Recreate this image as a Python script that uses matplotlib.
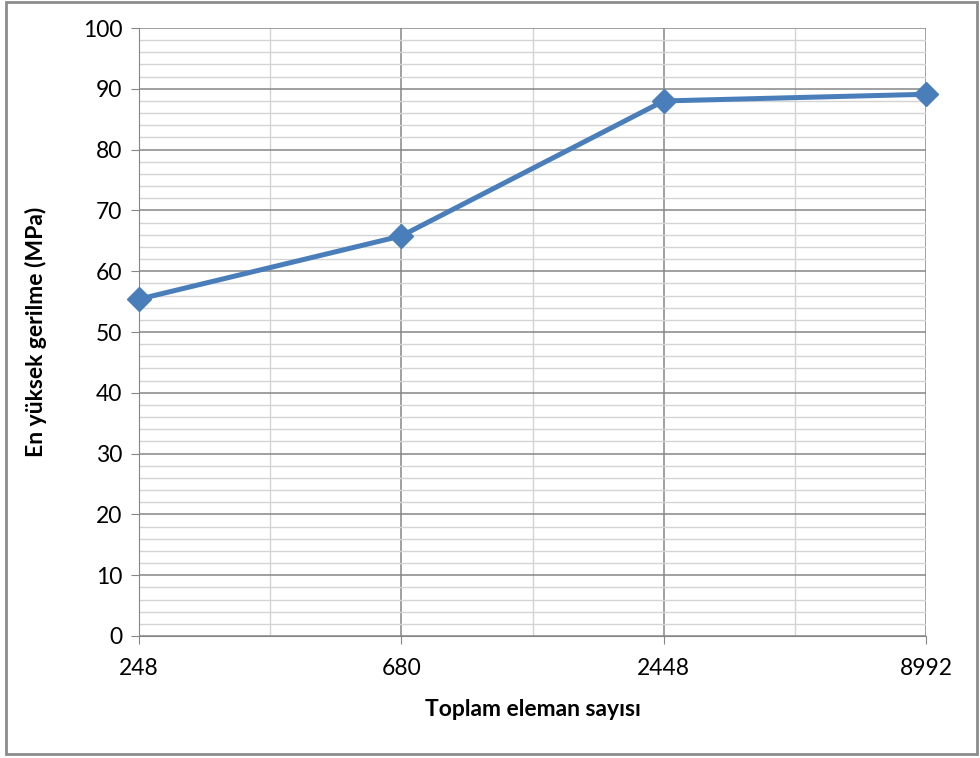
import matplotlib
matplotlib.use('Agg')
import matplotlib.pyplot as plt
import numpy as np
from matplotlib.patches import Rectangle

plt.rcParams['font.family'] = ['Lato', 'DejaVu Sans']

eleman = ['248', '680', '2448', '8992']
gerilme = [55.4, 65.8, 88.0, 89.1]

fig = plt.figure(figsize=(9.8, 7.58), dpi=100)
ax = fig.add_axes([139/980, 122/758, 787/980, 608/758])

x = np.arange(len(eleman))
ax.plot(x, gerilme, color='#4a7ebb', lw=3.6, marker='D', markersize=12.5,
        markerfacecolor='#4a7ebb', markeredgecolor='#4a7ebb', zorder=5, clip_on=False)

ax.set_xlim(0, len(eleman) - 1)
ax.set_ylim(0, 100)
ax.set_yticks(np.arange(0, 101, 10))
ax.set_yticks(np.arange(0, 101, 2), minor=True)
ax.set_xticks(x)
ax.set_xticklabels(eleman)
ax.set_xticks(np.arange(0.5, len(eleman) - 1, 1), minor=True)

# ızgara çizgileri
ax.grid(which='major', color='#868686', lw=1.1)
ax.grid(which='minor', color='#d4d4d4', lw=1.0)
ax.set_axisbelow(True)

for s in ['top', 'right']:
    ax.spines[s].set_visible(False)
ax.spines['left'].set_color('#868686')
ax.spines['bottom'].set_color('#868686')
ax.tick_params(which='major', length=6, color='#868686', labelsize=16.5, pad=6)
ax.tick_params(which='minor', length=0)
ax.tick_params(axis='x', pad=10)

ax.set_xlabel('Toplam eleman sayısı', fontsize=16.5, fontweight='bold', labelpad=14)
ax.set_ylabel('En yüksek gerilme (MPa)', fontsize=16.5, fontweight='bold', labelpad=26)

fig.patches.append(Rectangle((6/980, 4/758), 971/980, 752/758, transform=fig.transFigure,
                             fill=False, edgecolor='#8c8c8c', lw=2))

fig.savefig('out.png', dpi=100)
